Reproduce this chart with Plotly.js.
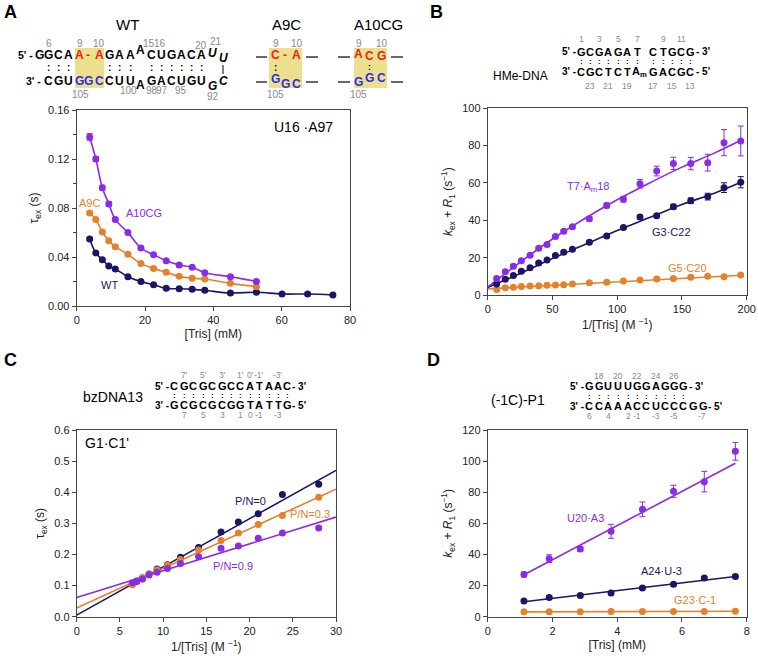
<!DOCTYPE html>
<html>
<head>
<meta charset="utf-8">
<script src="https://cdn.plot.ly/plotly-3.0.1.min.js"></script>
<style>html,body{margin:0;padding:0;background:#fff;}#chart{width:758px;height:656px;}</style>
</head>
<body>
<div id="chart"></div>
<script>
// ---------------- DATA ----------------
// Panel A: tau_ex vs [Tris] (mM), U16·A97
const trisA = [3.8, 5.6, 7.5, 9.4, 11.3, 15.0, 18.8, 22.5, 26.2, 30.0, 33.8, 37.5, 45.0, 52.6];
const trisA_WT = [3.8, 5.6, 7.5, 9.4, 11.3, 15.0, 18.8, 22.5, 26.2, 30.0, 33.8, 37.5, 45.0, 52.6, 60.1, 67.6, 75.0];
const tauA10CG = [0.138, 0.120, 0.0966, 0.0833, 0.0707, 0.0599, 0.0473, 0.0419, 0.0370, 0.0335, 0.0316, 0.0272, 0.0239, 0.0201];
const errA10CG = [0.0027, 0.002, 0.002, 0.002, 0.0015, 0.0015, 0.001, 0.001, 0.001, 0.001, 0.001, 0.001, 0.001, 0.001];
const tauA9C = [0.0759, 0.0707, 0.0604, 0.0533, 0.0484, 0.0422, 0.0346, 0.0307, 0.0275, 0.0242, 0.0226, 0.0220, 0.0185, 0.0158];
const errA9C = [0.0015, 0.001, 0.001, 0.001, 0.001, 0.001, 0.001, 0.001, 0.001, 0.001, 0.001, 0.001, 0.001, 0.001];
const tauWT = [0.0547, 0.0433, 0.0378, 0.0327, 0.0302, 0.0239, 0.0199, 0.0174, 0.0144, 0.0141, 0.0136, 0.0128, 0.0106, 0.0112, 0.0098, 0.0098, 0.0090];
const errWT = [0.0012, 0.001, 0.001, 0.001, 0.001, 0.001, 0.001, 0.001, 0.001, 0.001, 0.001, 0.001, 0.001, 0.001, 0.001, 0.001, 0.001];

// Panel B: kex + R1 vs 1/[Tris] (M^-1), HMe-DNA
const invTrisB = [6.9, 13.6, 19.8, 26.0, 32.7, 39.4, 45.8, 52.3, 58.7, 65.4, 78.5, 91.9, 104.8, 117.6, 130.5, 143.4, 156.8, 169.9, 182.5, 195.4];
const kT7Am18 = [8.9, 12.5, 15.4, 18.4, 21.3, 25.0, 27.1, 31.3, 34.1, 36.6, 40.9, 48.0, 51.3, 59.6, 66.4, 70.5, 70.4, 70.9, 81.6, 82.5];
const errT7Am18 = [0.8, 0.8, 0.8, 0.8, 0.8, 0.8, 0.8, 0.8, 0.8, 0.8, 1.2, 1.3, 1.5, 2.3, 2.6, 3.3, 3.3, 4.5, 7.0, 8.0];
const kG3C22 = [5.9, 8.4, 10.5, 12.7, 14.6, 17.1, 18.8, 21.1, 22.9, 24.5, 28.2, 31.6, 36.1, 41.8, 42.5, 47.3, 50.5, 52.7, 57.5, 60.4];
const errG3C22 = [0.5, 0.5, 0.5, 0.5, 0.5, 0.5, 0.5, 0.5, 0.5, 0.5, 0.6, 0.8, 0.8, 1.0, 1.0, 1.3, 1.5, 1.8, 2.6, 3.0];
const kG5C20 = [3.0, 3.9, 4.1, 4.5, 4.8, 5.0, 5.2, 5.4, 5.5, 5.9, 6.6, 6.8, 7.5, 8.0, 8.6, 8.8, 9.5, 10.0, 9.8, 10.7];
const errG5C20 = [0.4, 0.4, 0.4, 0.4, 0.4, 0.4, 0.4, 0.4, 0.4, 0.4, 0.4, 0.4, 0.4, 0.4, 0.4, 0.4, 0.4, 0.4, 0.4, 0.4];
const fitB_x = [0, 25, 50, 75, 100, 125, 150, 175, 196];
const fitB_T7 = [4.3, 17.5, 30.0, 41.0, 51.0, 60.0, 68.5, 76.0, 83.0];
const fitB_G3 = [4.0, 11.5, 19.5, 27.0, 34.5, 41.5, 48.5, 54.5, 60.5];
const fitB_G5 = [3.3, 4.2, 5.2, 6.1, 7.0, 7.9, 8.8, 9.7, 10.6];

// Panel C: tau_ex vs 1/[Tris] (M^-1), bzDNA13 G1·C1'
const invTrisC = [6.44, 6.94, 7.6, 8.37, 9.3, 10.5, 12.0, 14.1, 16.7, 18.7, 21.0, 23.8, 28.0];
const tauPN0 = [0.105, 0.113, 0.122, 0.137, 0.153, 0.167, 0.191, 0.222, 0.272, 0.304, 0.331, 0.393, 0.426];
const tauPN03 = [0.103, 0.115, 0.126, 0.136, 0.151, 0.165, 0.184, 0.214, 0.245, 0.269, 0.296, 0.325, 0.384];
const tauPN09 = [0.109, 0.115, 0.121, 0.134, 0.143, 0.155, 0.171, 0.193, 0.220, 0.227, 0.252, 0.269, 0.285];
const fitC_x = [0, 30];
const fitC_PN0 = [0.005, 0.470];
const fitC_PN03 = [0.028, 0.410];
const fitC_PN09 = [0.062, 0.320];

// Panel D: kex + R1 vs [Tris] (mM), (-1C)-P1
const trisD = [1.12, 1.9, 2.86, 3.81, 4.78, 5.74, 6.69, 7.65];
const kU20A3 = [27.2, 37.3, 43.5, 54.9, 69.0, 80.6, 86.8, 106.3];
const errU20A3 = [1.5, 2.5, 1.5, 4.5, 4.7, 3.9, 6.6, 5.7];
const kA24U3 = [10.1, 12.4, 13.7, 15.2, 18.4, 20.8, 24.9, 25.9];
const errA24U3 = [0.9, 0.9, 0.9, 0.9, 0.9, 0.9, 0.9, 0.9];
const kG23C1 = [3.2, 3.2, 3.2, 3.3, 3.4, 3.4, 3.4, 3.5];
const fitD_x = [1.12, 7.65];
const fitD_U20 = [27.0, 98.6];
const fitD_A24 = [9.6, 25.8];
const fitD_G23 = [3.1, 3.5];

// Sequence texts
const wtTop = ["G","G","C","A","A","-","A","G","A","A","A","C","U","G","A","C","A"];
const wtBot = ["C","G","U","G","G","C","C","U","U","A","G","A","C","U","G","U"];
const hmeTop = ["G","C","G","A","G","A","T","C","T","G","C","G"];
const hmeBot = ["C","G","C","T","C","T","A<sub>m</sub>","G","A","C","G","C"];
const bzTop = ["C","G","C","G","C","G","C","C","A","T","A","A","C"];
const bzBot = ["G","C","G","C","G","C","G","G","T","A","T","T","G"];
const p1Top = ["G","G","U","U","U","G","G","A","G","G","G"];
const p1Bot = ["C","C","A","A","A","C","C","U","C","C","C","G","G"];

// ---------------- STYLE ----------------
const FONT = 'Liberation Sans, Arial, Helvetica, sans-serif';
const PURPLE = '#8a2be8', NAVY = '#1c1566', ORANGE = '#e4822c';
const RED = '#e8231c', BLUE = '#2b2bf0', GREY = '#8a8a8a', BOX = '#ece08c';
const W = 758, H = 656;
const P = x => x / W, Q = y => 1 - y / H;
const annotations = [], shapes = [];
function txt(t, x, y, o) {
  o = o || {};
  annotations.push({xref:'paper', yref:'paper', x:P(x), y:Q(y), text:t, showarrow:false,
    xanchor:o.xa || 'center', yanchor:'middle', borderpad:0,
    font:{family:FONT, size:o.size || 12, color:o.color || '#000'}});
}
function hline(x0, x1, y, c, w) {
  shapes.push({type:'line', xref:'paper', yref:'paper', x0:P(x0), x1:P(x1), y0:Q(y), y1:Q(y), line:{color:c || '#000', width:w || 1.2}});
}
function vline(x, y0, y1) {
  shapes.push({type:'line', xref:'paper', yref:'paper', x0:P(x), x1:P(x), y0:Q(y0), y1:Q(y1), line:{color:'#000', width:1}});
}
function box(x0, x1, y0, y1) {
  shapes.push({type:'rect', xref:'paper', yref:'paper', x0:P(x0), x1:P(x1), y0:Q(y1), y1:Q(y0), fillcolor:BOX, line:{width:0}, layer:'below'});
}
const B = s => '<b>' + s + '</b>';
const LS = 12;   // letter size, panel A

// Panel labels
txt(B('A'), 10, 12, {size:18});
txt(B('B'), 436, 12, {size:18});
txt(B('C'), 10, 360, {size:18});
txt(B('D'), 433, 360, {size:18});

// ---- Panel A sequences ----
txt('WT', 127, 24, {size:15});
txt('A9C', 286, 24, {size:15});
txt('A10CG', 378, 24, {size:15});
box(75, 104, 48, 88);
const wtTopX = [39,48,58,68,79,88,99,109,119,130,140,151,161,171,181,191,201];
wtTop.forEach((c, i) => {
  const red = (i >= 4 && i <= 6);
  txt(B(c), wtTopX[i], i === 10 ? 50 : 55, {size:LS, color: red ? RED : '#000'});
});
txt(B("5' -"), 34, 55, {size:10.5, xa:'right'});
txt('<b><i>U</i></b>', 212, 53, {size:LS});
txt('<b><i>U</i></b>', 223, 58, {size:LS});
const wtBotX = [48,58,68,79,88,99,109,119,130,140,151,161,171,181,191,201];
wtBot.forEach((c, i) => {
  const blue = (i >= 3 && i <= 5);
  txt(B(c), wtBotX[i], i === 9 ? 85 : 81, {size:LS, color: blue ? BLUE : '#000'});
});
txt(B("3' -"), 42, 81, {size:10.5, xa:'right'});
txt('<b><i>G</i></b>', 212, 86, {size:LS});
txt('<b><i>C</i></b>', 223, 81, {size:LS});
vline(223, 65, 74);
[48,58,68,109,119,130,151,161,171,181,191,201].forEach(x => txt(B(':'), x, 68, {size:10}));
[['6',49,43],['9',80,43],['10',99,43],['15',149,43],['16',160,43],['20',201,46],['21',216,42],
 ['105',80,94],['100',128,90],['98',152,91],['97',162,91],['95',181,91],['92',213,96]]
  .forEach(n => txt(n[0], n[1], n[2], {size:10, color:GREY}));

// A9C
box(269, 302, 48, 88);
hline(256, 267, 57); hline(256, 267, 82); hline(306, 318, 57); hline(306, 318, 82);
txt(B('C'), 275, 55, {size:LS, color:RED});
txt(B('-'), 285, 55, {size:LS, color:RED});
txt(B('A'), 296, 55, {size:LS, color:RED});
txt(B(':'), 275, 67, {size:10});
txt(B('G'), 275, 79, {size:LS, color:BLUE});
txt(B('G'), 285, 84, {size:LS, color:BLUE});
txt(B('C'), 296, 84, {size:LS, color:BLUE});
txt('9', 276, 43, {size:10, color:GREY}); txt('10', 297, 43, {size:10, color:GREY});
txt('105', 275, 94, {size:10, color:GREY});

// A10CG
box(354, 387, 48, 88);
hline(338, 350, 57); hline(338, 350, 82); hline(391, 403, 57); hline(391, 403, 82);
txt(B('A'), 358, 54, {size:LS, color:RED});
txt(B('C'), 369, 56, {size:LS, color:RED});
txt(B('G'), 381, 56, {size:LS, color:RED});
txt(B(':'), 369, 67, {size:9});
txt(B('G'), 358, 82, {size:LS, color:BLUE});
txt(B('G'), 369, 78, {size:LS, color:BLUE});
txt(B('C'), 381, 78, {size:LS, color:BLUE});
txt('9', 359, 43, {size:10, color:GREY}); txt('10', 382, 43, {size:10, color:GREY});
txt('105', 358, 94, {size:10, color:GREY});

// ---- Panel B sequence ----
txt('HMe-DNA', 520, 76, {size:12});
const hmeX = [581,590,599,608,618,627,637,653,663,672,681,690];
txt(B("5' -"), 577, 52, {size:10, xa:'right'});
txt(B("- 3'"), 695, 52, {size:10, xa:'left'});
hmeTop.forEach((c, i) => txt(B(c), hmeX[i], 52, {size:11}));
txt(B("3' -"), 577, 72, {size:10, xa:'right'});
txt(B("- 5'"), 695, 72, {size:10, xa:'left'});
hmeBot.forEach((c, i) => txt(B(c), hmeX[i] + (i === 6 ? 2 : 0), 72, {size:11}));
hmeX.forEach(x => txt(B(':'), x, 62, {size:8}));
[['1',581],['3',599],['5',618],['7',637],['9',663],['11',681]].forEach(n => txt(n[0], n[1], 39, {size:8.5, color:GREY}));
[['23',590],['21',608],['19',627],['17',653],['15',672],['13',690]].forEach(n => txt(n[0], n[1], 86, {size:8.5, color:GREY}));

// ---- Panel C sequence ----
txt('bzDNA13', 113, 397, {size:14});
const bzX = [174,184,193,203,212,222,231,240,250,259,269,278,287];
txt(B("5' -"), 170, 386, {size:10, xa:'right'});
txt(B("- 3'"), 291, 386, {size:10, xa:'left'});
bzTop.forEach((c, i) => txt(B(c), bzX[i], 386, {size:11}));
txt(B("3' -"), 170, 405, {size:10, xa:'right'});
txt(B("- 5'"), 291, 405, {size:10, xa:'left'});
bzBot.forEach((c, i) => txt(B(c), bzX[i], 405, {size:11}));
bzX.forEach(x => txt(B(':'), x, 395, {size:8}));
[["7'",184],["5'",203],["3'",222],["1'",240],["0'",250],["-1'",259],["-3'",278]].forEach(n => txt(n[0], n[1], 375, {size:8.5, color:GREY}));
[['7',184],['5',203],['3',222],['1',240],['0',250],['-1',259],['-3',278]].forEach(n => txt(n[0], n[1], 415, {size:8.5, color:GREY}));

// ---- Panel D sequence ----
txt('(-1C)-P1', 518, 400, {size:14});
const p1X = [589,599,608,618,628,637,646,656,665,674,683,693,703];
txt(B("5' -"), 585, 386, {size:10, xa:'right'});
txt(B("- 3'"), 688, 386, {size:10, xa:'left'});
p1Top.forEach((c, i) => txt(B(c), p1X[i], 386, {size:11}));
txt(B("3' -"), 585, 406, {size:10, xa:'right'});
txt(B("- 5'"), 707, 406, {size:10, xa:'left'});
p1Bot.forEach((c, i) => txt(B(c), p1X[i], 406, {size:11}));
p1X.slice(0, 11).forEach(x => txt(B(':'), x, 396, {size:8}));
[['18',599],['20',618],['22',637],['24',656],['26',674]].forEach(n => txt(n[0], n[1], 376, {size:8.5, color:GREY}));
[['6',589],['4',608],['2',628],['-1',637],['-3',656],['-5',674],['-7',702]].forEach(n => txt(n[0], n[1], 416, {size:8.5, color:GREY}));

// ---- In-plot labels ----
txt('U16 ·A97', 303, 127, {size:14});
txt('A10CG', 144, 213, {size:11, color:PURPLE});
txt('A9C', 89, 203, {size:11, color:ORANGE});
txt('WT', 109, 285, {size:11, color:NAVY});
txt('T7·A<sub>m</sub>18', 588, 187, {size:11, color:PURPLE});
txt('G3·C22', 671, 232, {size:11, color:NAVY});
txt('G5·C20', 687, 268, {size:11, color:ORANGE});
txt("G1·C1'", 107, 443, {size:14});
txt('P/N=0', 250, 501, {size:11, color:NAVY});
txt('P/N=0.3', 310, 514, {size:11, color:ORANGE});
txt('P/N=0.9', 233, 566, {size:11, color:PURPLE});
txt('U20·A3', 585, 518, {size:11, color:PURPLE});
txt('A24·U-3', 661, 571, {size:11, color:NAVY});
txt('G23·C-1', 695, 600, {size:11, color:ORANGE});

// ---------------- TRACES ----------------
function pts(x, y, err, color, ax, withLine) {
  const t = {x:x, y:y, type:'scatter', mode: withLine ? 'lines+markers' : 'markers',
    marker:{size:7, color:color}, xaxis:ax[0], yaxis:ax[1], hoverinfo:'x+y', cliponaxis:false};
  if (withLine) t.line = {shape:'spline', smoothing:1, color:color, width:1.6};
  if (err) t.error_y = {type:'data', array:err, color:color, thickness:1, width:3};
  return t;
}
function fit(x, y, color, ax, spline) {
  return {x:x, y:y, type:'scatter', mode:'lines', line:{color:color, width:1.6, shape: spline ? 'spline' : 'linear'},
    xaxis:ax[0], yaxis:ax[1], hoverinfo:'skip'};
}
const aA = ['x','y'], aB = ['x2','y2'], aC = ['x3','y3'], aD = ['x4','y4'];
const data = [
  pts(trisA_WT, tauWT, errWT, NAVY, aA, true),
  pts(trisA, tauA9C, errA9C, ORANGE, aA, true),
  pts(trisA, tauA10CG, errA10CG, PURPLE, aA, true),

  fit(fitB_x, fitB_G5, ORANGE, aB, false),
  fit(fitB_x, fitB_G3, NAVY, aB, true),
  fit(fitB_x, fitB_T7, PURPLE, aB, true),
  pts(invTrisB, kG5C20, errG5C20, ORANGE, aB, false),
  pts(invTrisB, kG3C22, errG3C22, NAVY, aB, false),
  pts(invTrisB, kT7Am18, errT7Am18, PURPLE, aB, false),

  fit(fitC_x, fitC_PN0, NAVY, aC, false),
  fit(fitC_x, fitC_PN03, ORANGE, aC, false),
  fit(fitC_x, fitC_PN09, PURPLE, aC, false),
  pts(invTrisC, tauPN0, null, NAVY, aC, false),
  pts(invTrisC, tauPN03, null, ORANGE, aC, false),
  pts(invTrisC, tauPN09, null, PURPLE, aC, false),

  fit(fitD_x, fitD_G23, ORANGE, aD, false),
  fit(fitD_x, fitD_A24, NAVY, aD, false),
  fit(fitD_x, fitD_U20, PURPLE, aD, false),
  pts(trisD, kG23C1, null, ORANGE, aD, false),
  pts(trisD, kA24U3, errA24U3, NAVY, aD, false),
  pts(trisD, kU20A3, errU20A3, PURPLE, aD, false)
];

// ---------------- AXES ----------------
function axis(dom, range, dtick, title, anchor, fmt, standoff, extra) {
  const a = {domain:dom, range:range, dtick:dtick, tick0:0, anchor:anchor,
    showline:true, mirror:true, linecolor:'#444', linewidth:1,
    ticks:'outside', ticklen:4, tickcolor:'#444', tickwidth:1,
    showgrid:false, zeroline:false, fixedrange:true, automargin:false,
    tickfont:{family:FONT, size:11, color:'#222'},
    title:{text:title, font:{family:FONT, size:12, color:'#222'}, standoff:standoff}};
  if (fmt) a.tickformat = fmt;
  return Object.assign(a, extra || {});
}
const xA = [P(76.7), P(350)], yA = [Q(306), Q(110)];
const xB = [P(487.7), P(746.7)], yB = [Q(295), Q(108.3)];
const xC = [P(76.7), P(336)], yC = [Q(616.7), Q(430)];
const xD = [P(487.7), P(746.7)], yD = [Q(616.7), Q(430)];
const kTitle = '<i>k</i><sub>ex</sub> + <i>R</i><sub>1</sub> (s<sup>−1</sup>)';
const layout = {
  width:W, height:H, margin:{l:0, r:0, t:0, b:0}, paper_bgcolor:'#fff', plot_bgcolor:'#fff',
  showlegend:false, font:{family:FONT},
  xaxis: axis(xA, [0, 80], 20, '[Tris] (mM)', 'y', null, 4),
  yaxis: axis(yA, [0, 0.16], 0.04, 'τ<sub>ex</sub> (s)', 'x', '.2f', 6,
    {minor:{dtick:0.02, ticks:'outside', ticklen:3, tickcolor:'#444'}}),
  xaxis2: axis(xB, [0, 200], 50, '1/[Tris] (M <sup>−1</sup>)', 'y2', null, 6),
  yaxis2: axis(yB, [0, 100], 20, kTitle, 'x2', null, 6),
  xaxis3: axis(xC, [0, 30], 5, '1/[Tris] (M <sup>−1</sup>)', 'y3', null, 6),
  yaxis3: axis(yC, [0, 0.6], 0.1, 'τ<sub>ex</sub> (s)', 'x3', '.1f', 6),
  xaxis4: axis(xD, [0, 8], 2, '[Tris] (mM)', 'y4', null, 4),
  yaxis4: axis(yD, [0, 120], 20, kTitle, 'x4', null, 6),
  annotations: annotations,
  shapes: shapes
};
Plotly.newPlot('chart', data, layout, {displayModeBar:false, staticPlot:true});
</script>
</body>
</html>
